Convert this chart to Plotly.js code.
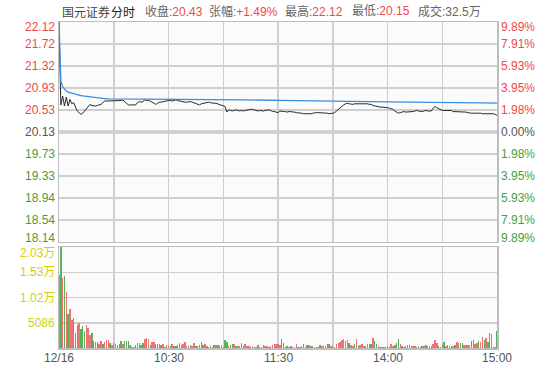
<!DOCTYPE html>
<html>
<head>
<meta charset="utf-8">
<script src="https://cdn.plot.ly/plotly-3.0.1.min.js"></script>
<style>html,body{margin:0;padding:0;background:#fff;}#chart{width:557px;height:365px;}</style>
</head>
<body>
<div id="chart"></div>
<script>
// ---------- data ----------
const prevClose = 20.13;
const priceTicks = [18.14, 18.538, 18.936, 19.334, 19.732, 20.13, 20.528, 20.926, 21.324, 21.722, 22.12];
const priceTickText = ['18.14','18.54','18.94','19.33','19.73','20.13','20.53','20.93','21.32','21.72','22.12'];
const pctTickText = ['9.89%','7.91%','5.93%','3.95%','1.98%','0.00%','1.98%','3.95%','5.93%','7.91%','9.89%'];
const volTicks = [5086, 10172, 15258, 20344];
const volTickText = ['5086','1.02万','1.53万','2.03万'];
const timeTicks = [0, 30, 60, 90, 120, 150, 180, 210, 240];
const timeTickText = ['12/16','','10:30','','11:30','','14:00','','15:00'];
const headerTitle = ['国元证券','分时'];
const headerLabels = ['收盘:','张幅:','最高:','最低:','成交:'];
const headerValues = ['20.43','+1.49%','22.12','20.15','32.5万'];

const price = [
22.12,20.62,20.78,20.60,20.76,20.60,20.72,20.64,20.66,20.57,
20.51,20.48,20.45,20.47,20.51,20.55,20.58,20.63,20.61,20.60,
20.60,20.61,20.62,20.63,20.66,20.69,20.69,20.69,20.69,20.69,
20.69,20.69,20.69,20.70,20.70,20.71,20.68,20.65,20.62,20.62,
20.62,20.62,20.62,20.66,20.68,20.67,20.68,20.71,20.71,20.70,
20.69,20.67,20.65,20.63,20.65,20.67,20.67,20.68,20.69,20.69,
20.70,20.70,20.69,20.70,20.71,20.70,20.69,20.68,20.68,20.67,
20.67,20.68,20.68,20.67,20.66,20.65,20.64,20.62,20.64,20.65,
20.66,20.66,20.67,20.66,20.65,20.65,20.65,20.64,20.63,20.62,
20.61,20.59,20.49,20.53,20.52,20.51,20.52,20.53,20.52,20.51,
20.52,20.51,20.52,20.53,20.53,20.54,20.54,20.53,20.52,20.51,
20.52,20.51,20.51,20.52,20.53,20.53,20.52,20.50,20.50,20.49,
20.48,20.51,20.50,20.50,20.50,20.49,20.50,20.50,20.50,20.49,
20.48,20.48,20.48,20.47,20.46,20.46,20.45,20.46,20.46,20.47,
20.48,20.48,20.48,20.48,20.48,20.47,20.47,20.47,20.46,20.46,
20.47,20.48,20.51,20.54,20.57,20.59,20.62,20.64,20.65,20.64,
20.63,20.63,20.64,20.64,20.64,20.65,20.65,20.65,20.65,20.64,
20.63,20.63,20.61,20.60,20.59,20.58,20.58,20.58,20.58,20.58,
20.57,20.56,20.55,20.54,20.51,20.49,20.47,20.48,20.49,20.50,
20.49,20.49,20.50,20.50,20.50,20.51,20.52,20.51,20.50,20.50,
20.51,20.52,20.51,20.51,20.51,20.56,20.59,20.57,20.55,20.53,
20.52,20.52,20.52,20.51,20.51,20.52,20.50,20.50,20.49,20.49,
20.50,20.50,20.50,20.49,20.48,20.47,20.47,20.47,20.47,20.48,
20.48,20.47,20.46,20.46,20.46,20.47,20.47,20.46,20.46,20.45,
20.43];

const avgPrice = [
22.12,21.05,20.95,20.90,20.87,20.85,20.84,20.83,20.82,20.81,
20.80,20.795,20.79,20.785,20.78,20.775,20.77,20.765,20.76,20.755,
20.75,20.745,20.742,20.739,20.736,20.733,20.731,20.73,20.729,20.728,
20.728,20.727,20.727,20.727,20.727,20.727,20.726,20.726,20.726,20.726,
20.725,20.725,20.725,20.725,20.725,20.725,20.725,20.725,20.725,20.725,
20.724,20.724,20.724,20.724,20.724,20.724,20.724,20.724,20.724,20.724,
20.723,20.723,20.723,20.723,20.723,20.723,20.723,20.723,20.723,20.723,
20.722,20.722,20.722,20.722,20.722,20.722,20.722,20.722,20.722,20.722,
20.721,20.721,20.721,20.72,20.72,20.72,20.72,20.72,20.719,20.719,
20.718,20.717,20.716,20.716,20.715,20.715,20.714,20.714,20.713,20.713,
20.712,20.712,20.711,20.711,20.71,20.71,20.71,20.709,20.709,20.708,
20.708,20.707,20.707,20.706,20.706,20.705,20.705,20.704,20.704,20.703,
20.702,20.702,20.701,20.701,20.70,20.70,20.699,20.699,20.698,20.698,
20.697,20.697,20.696,20.696,20.695,20.694,20.694,20.693,20.693,20.692,
20.691,20.691,20.69,20.69,20.689,20.689,20.688,20.688,20.687,20.687,
20.686,20.686,20.685,20.685,20.685,20.685,20.685,20.684,20.684,20.684,
20.683,20.683,20.683,20.682,20.682,20.682,20.681,20.681,20.681,20.68,
20.68,20.68,20.679,20.679,20.678,20.678,20.677,20.677,20.676,20.676,
20.675,20.675,20.674,20.674,20.673,20.673,20.672,20.672,20.671,20.671,
20.67,20.67,20.669,20.669,20.668,20.668,20.667,20.667,20.666,20.666,
20.665,20.665,20.665,20.664,20.664,20.664,20.664,20.664,20.663,20.663,
20.663,20.662,20.662,20.662,20.661,20.661,20.661,20.66,20.66,20.66,
20.659,20.659,20.659,20.658,20.658,20.658,20.657,20.657,20.657,20.656,
20.656,20.656,20.655,20.655,20.655,20.654,20.654,20.654,20.653,20.653,
20.653];

const volume = [
14760,20344,14090,14490,11270,6780,7920,5570,6040,3090,
4560,5030,3890,4360,3350,4560,4030,2680,3090,1410,
1210,1210,740,1340,870,1210,1680,1680,1070,540,
1070,870,540,740,1480,740,1480,1480,1480,540,
200,200,540,940,1010,540,1010,1740,2010,1740,
540,1210,1210,800,740,740,670,800,270,540,
670,340,740,470,340,670,1070,670,740,1210,
400,400,540,400,1070,400,340,540,1140,670,
740,400,270,400,270,600,540,600,400,540,
270,1610,1210,470,600,800,800,470,400,400,
1070,400,740,340,470,270,400,270,200,540,
270,270,600,340,400,270,400,600,740,870,
800,540,1740,940,270,400,130,400,200,200,
800,270,200,400,740,270,540,600,400,400,
130,270,130,540,400,470,400,800,800,400,
400,270,740,940,1210,1610,1880,1470,1610,940,
600,340,870,1740,340,540,740,470,340,740,
740,740,1940,1410,740,400,270,200,270,130,
340,200,870,470,540,1010,1880,740,470,270,
400,540,540,340,470,470,270,340,200,470,
400,540,400,340,470,870,1540,1070,340,200,
540,1140,340,540,470,340,340,540,1210,1070,
1070,1070,600,600,540,540,1410,1680,870,1010,
1410,1210,2210,1540,2080,1210,3020,2750,200,130,
3420];

const volDir = [
'u','d','u','d','u','d','u','u','d','d',
'd','u','d','d','d','u','u','u','d','d',
'u','d','u','u','d','u','u','u','d','u',
'u','u','u','d','d','u','d','d','d','d',
'u','u','d','u','u','d','d','u','u','u',
'd','u','u','d','d','d','d','u','u','u',
'u','d','u','d','d','u','u','d','u','u',
'u','d','u','u','u','d','d','d','d','d',
'u','u','u','d','u','d','u','d','u','u',
'd','d','d','u','d','d','u','d','u','u',
'u','d','u','u','u','d','u','u','u','d',
'u','u','d','u','u','d','u','u','u','u',
'u','u','d','d','u','d','u','d','u','u',
'u','d','u','d','d','u','d','u','u','d',
'u','u','u','d','u','u','u','d','d','u',
'u','u','u','u','u','u','u','u','u','d',
'u','u','d','u','d','u','u','u','d','u',
'd','d','u','d','d','u','d','u','d','u',
'd','u','u','u','d','d','d','u','d','u',
'u','d','d','u','u','u','u','u','d','d',
'u','d','u','u','d','u','u','u','d','u',
'd','d','u','d','d','u','u','d','u','u',
'd','d','u','u','u','u','d','d','u','u',
'd','u','u','d','u','d','d','u','u','u',
'd'];

// ---------- styles ----------
const RED = '#f04848', GREEN = '#3f9f3f', GRAY = '#555555', YEL = '#d2d200';
const GRID = '#cfcfcf', BORDER = '#bdbdbd';
const NUMFONT = 'Liberation Sans, Arial, Noto Sans CJK SC, sans-serif';
const CJKFONT = 'Noto Sans CJK SC, Liberation Sans, sans-serif';

const idx = price.map((_, i) => i);

const traces = [
  {x: idx, y: price, type: 'scatter', mode: 'lines', xaxis: 'x', yaxis: 'y',
   line: {color: '#2a2a2a', width: 1}, hoverinfo: 'skip'},
  {x: idx, y: avgPrice, type: 'scatter', mode: 'lines', xaxis: 'x', yaxis: 'y',
   line: {color: '#3a8ee0', width: 1.3}, hoverinfo: 'skip'},
  {x: idx, y: volume, type: 'bar', xaxis: 'x2', yaxis: 'y2', width: 0.8,
   marker: {color: volDir.map(d => d === 'u' ? '#f07272' : '#5cb05c'), line: {width: 0}},
   hoverinfo: 'skip'}
];

const annotations = [];
priceTicks.forEach((v, i) => {
  const col = v > prevClose + 1e-6 ? RED : (v < prevClose - 1e-6 ? GREEN : GRAY);
  const ys = i === priceTicks.length - 1 ? -5 : (i === 0 ? 4 : 0);
  annotations.push({xref: 'paper', yref: 'y', x: 0, y: v, xanchor: 'right', yanchor: 'middle',
    xshift: -2, yshift: ys, text: priceTickText[i], showarrow: false,
    font: {family: NUMFONT, size: 12, color: col}});
  annotations.push({xref: 'paper', yref: 'y', x: 1, y: v, xanchor: 'left', yanchor: 'middle',
    xshift: 2, yshift: ys, text: pctTickText[i], showarrow: false,
    font: {family: NUMFONT, size: 12, color: col}});
});
volTicks.forEach((v, i) => {
  annotations.push({xref: 'paper', yref: 'y2', x: 0, y: v, xanchor: 'right', yanchor: 'middle',
    xshift: -2, yshift: i === volTicks.length - 1 ? -6 : 0, text: volTickText[i], showarrow: false,
    font: {family: NUMFONT, size: 12, color: YEL}});
});
// time labels under the volume panel
timeTicks.forEach((v, i) => {
  if (!timeTickText[i]) return;
  annotations.push({xref: 'x2', yref: 'paper', x: v, y: 0, xanchor: 'center', yanchor: 'top',
    yshift: -1, text: timeTickText[i], showarrow: false,
    font: {family: NUMFONT, size: 12, color: '#555'}});
});
// header
const titleX = [60, 109];
const titleCol = ['#444', '#222'];
headerTitle.forEach((t, i) => {
  annotations.push({xref: 'paper', yref: 'paper', x: (titleX[i] - 59) / 438, y: 1,
    xanchor: 'left', yanchor: 'middle', yshift: 11, text: t, showarrow: false,
    font: {family: CJKFONT, size: 12, color: titleCol[i]}});
});
const headerX = [143, 207, 283, 350, 416];
headerLabels.forEach((t, i) => {
  annotations.push({xref: 'paper', yref: 'paper', x: (headerX[i] - 59) / 438, y: 1,
    xanchor: 'left', yanchor: 'middle', yshift: 11,
    text: '<span style="color:#666">' + t + '</span><span style="color:' + (i === 4 ? '#666' : RED) + '">' + headerValues[i] + '</span>',
    showarrow: false, font: {family: NUMFONT, size: 12, color: '#666'}});
});

const layout = {
  width: 557, height: 365,
  margin: {l: 59, r: 60, t: 22, b: 17, pad: 0},
  paper_bgcolor: '#ffffff', plot_bgcolor: '#fbfbfb',
  showlegend: false, bargap: 0,
  xaxis: {domain: [0, 1], anchor: 'y', range: [0, 240], tickmode: 'array', tickvals: timeTicks,
    showticklabels: false, showgrid: true, gridcolor: GRID, gridwidth: 1.5,
    showline: true, mirror: true, linecolor: BORDER, linewidth: 1.5, zeroline: false, ticks: ''},
  xaxis2: {domain: [0, 1], anchor: 'y2', matches: 'x', range: [0, 240], tickmode: 'array',
    tickvals: timeTicks, showticklabels: false, showgrid: true, gridcolor: GRID, gridwidth: 1.5,
    showline: true, mirror: true, linecolor: BORDER, linewidth: 1.5, zeroline: false, ticks: ''},
  yaxis: {domain: [0.3252, 1], anchor: 'x', range: [priceTicks[0], priceTicks[priceTicks.length - 1]],
    tickmode: 'array', tickvals: priceTicks, showticklabels: false, showgrid: true,
    gridcolor: GRID, gridwidth: 1.5, showline: true, mirror: true, linecolor: BORDER,
    linewidth: 1.5, zeroline: false, ticks: ''},
  yaxis2: {domain: [0, 0.3098], anchor: 'x2', range: [0, volTicks[volTicks.length - 1]],
    tickmode: 'array', tickvals: volTicks, showticklabels: false, showgrid: true,
    gridcolor: GRID, gridwidth: 1.5, showline: true, mirror: true, linecolor: BORDER,
    linewidth: 1.5, zeroline: false, ticks: ''},
  shapes: [{type: 'line', xref: 'paper', yref: 'y', x0: 0, x1: 1, y0: prevClose, y1: prevClose,
    line: {color: '#adadad', width: 3}, layer: 'below'}],
  annotations: annotations
};

Plotly.newPlot('chart', traces, layout, {staticPlot: true, displayModeBar: false});
</script>
</body>
</html>
